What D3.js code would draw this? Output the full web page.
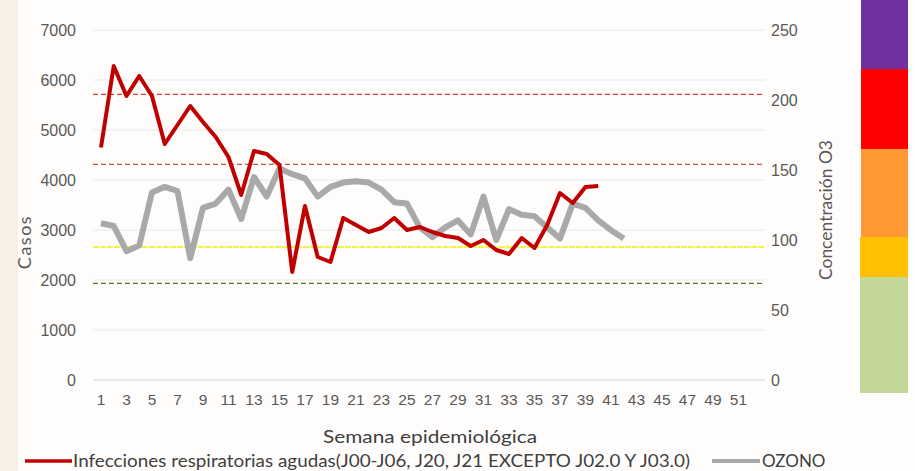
<!DOCTYPE html>
<html>
<head>
<meta charset="utf-8">
<script src="https://cdn.jsdelivr.net/npm/d3@7"></script>
<style>
	body { margin: 0; background: #fffdfb; }
	svg { display: block; font-family: Lato, "Open Sans", sans-serif; }
</style>
</head>
<body>
<svg id="chart" width="915" height="471"></svg>
<script>
// Weekly acute respiratory infections vs. ozone concentration

var weeks = d3.range(1, 53);
var weekLabels = weeks.filter(function(w) { return w % 2 === 1; });

	// Cases of acute respiratory infections, weeks 1..40
var iraCases = [4650, 6280, 5680, 6080, 5680, 4720, 5100, 5480, 5160, 4860,
	4460, 3700, 4580, 4520, 4300, 2160, 3480, 2460, 2360, 3240,
	3100, 2960, 3040, 3240, 3000, 3060, 2960, 2880, 2840, 2680,
	2800, 2600, 2520, 2840, 2640, 3100, 3740, 3540, 3860, 3880];

	// Ozone concentration, weeks 1..42
var ozono = [112, 110, 92, 96, 134, 138, 135, 87, 123, 126,
	136, 115, 145, 131, 151, 147, 144, 131, 138, 141,
	142, 141, 136, 127, 126, 109, 102, 109, 114, 104,
	131, 100, 122, 118, 117, 109, 101, 126, 123, 114,
	107, 101];

var casosTicks = [0, 1000, 2000, 3000, 4000, 5000, 6000, 7000];
var ozonoTicks = [0, 50, 100, 150, 200, 250];

	// Reference levels (ozone units) drawn as dashed lines
var niveles = [204, 154, 95, 69];
var nivelColors = ["#e0403a", "#c8553d", "#f2f000", "#4f7a28"];
var nivelDash = ["5,3", "5,3", "6,1", "5,3"];

	// Colour key at the right edge, top to bottom
var bandColors = ["#7030a0", "#ff0000", "#ff9933", "#ffc000", "#c4d79b"];

var svg = d3.select("#chart");
var W = 915, H = 471;
var plot = { l: 93, r: 765, t: 30, b: 380 };
var txt = "#595959";

var x = d3.scaleBand().domain(weeks).range([94.6, 757.6]);
var yL = d3.scaleLinear().domain([0, 7000]).range([plot.b, plot.t]);
var yR = d3.scaleLinear().domain([0, 250]).range([plot.b, plot.t]);

function cx(w) { return x(w) + x.bandwidth()/2; }

	// Faint slide strip on the left edge
svg.append("rect").attr("x", 0).attr("y", 0).attr("width", 18).attr("height", H)
	.attr("fill", "#f8efe6");

	// Colour key blocks
var bandEdges = [0, 69, 149, 237, 277, 393];
bandColors.forEach(function(c, i) {
	svg.append("rect")
		.attr("x", i >= 3 ? 860 : 861)
		.attr("y", bandEdges[i])
		.attr("width", i >= 3 ? 48 : 47)
		.attr("height", bandEdges[i+1] - bandEdges[i])
		.attr("fill", c);
});

	// Gridlines
svg.append("g").selectAll("line")
	.data(casosTicks)
	.enter().append("line")
	.attr("x1", plot.l).attr("x2", plot.r)
	.attr("y1", function(d) { return yL(d); })
	.attr("y2", function(d) { return yL(d); })
	.attr("stroke", function(d) { return d === 0 ? "#d4d4d4" : "#e8e8e8"; })
	.attr("stroke-width", 1);

	// Level lines
niveles.forEach(function(v, i) {
	svg.append("line")
		.attr("x1", plot.l).attr("x2", plot.r)
		.attr("y1", yR(v)).attr("y2", yR(v))
		.attr("stroke", nivelColors[i])
		.attr("stroke-width", 1.4)
		.attr("stroke-dasharray", nivelDash[i]);
});

	// Axes: left (cases), right (ozone), bottom (weeks)
var axL = svg.append("g").attr("transform", "translate(" + 76 + ",0)")
	.call(d3.axisLeft(yL).tickValues(casosTicks).tickFormat(d3.format("d")).tickSize(0).tickPadding(0));
var axR = svg.append("g").attr("transform", "translate(" + 771 + ",0)")
	.call(d3.axisRight(yR).tickValues(ozonoTicks).tickFormat(d3.format("d")).tickSize(0).tickPadding(0));
var axB = svg.append("g").attr("transform", "translate(0," + 394 + ")")
	.call(d3.axisBottom(x).tickValues(weekLabels).tickSize(0).tickPadding(0));

[axL, axR, axB].forEach(function(a) {
	a.select(".domain").remove();
	a.selectAll("text").attr("fill", txt).style("font-size", "16px");
});
axB.selectAll("text").style("font-size", "15.5px");

	// Series lines
var lineL = d3.line()
	.x(function(d, i) { return cx(i+1); })
	.y(function(d) { return yL(d); });
var lineR = d3.line()
	.x(function(d, i) { return cx(i+1); })
	.y(function(d) { return yR(d); });

svg.append("path").datum(ozono)
	.attr("d", lineR)
	.attr("fill", "none")
	.attr("stroke", "#a9a9a9")
	.attr("stroke-width", 6)
	.attr("stroke-linejoin", "round");

svg.append("path").datum(iraCases)
	.attr("d", lineL)
	.attr("fill", "none")
	.attr("stroke", "#c00000")
	.attr("stroke-width", 4)
	.attr("stroke-linejoin", "round");

	// Axis titles
svg.append("text")
	.attr("transform", "translate(31,242) rotate(-90)")
	.attr("text-anchor", "middle")
	.attr("fill", txt).style("font-size", "18px")
	.style("letter-spacing", "1.5px")
	.text("Casos");

svg.append("text")
	.attr("transform", "translate(832,210) rotate(-90)")
	.attr("text-anchor", "middle")
	.attr("fill", txt).style("font-size", "18px")
	.attr("textLength", 140).attr("lengthAdjust", "spacingAndGlyphs")
	.text("Concentración O3");

svg.append("text")
	.attr("x", 323).attr("y", 443)
	.attr("fill", "#404040").style("font-size", "17px")
	.attr("textLength", 214).attr("lengthAdjust", "spacingAndGlyphs")
	.text("Semana epidemiológica");

	// Legend
var legY = 461;
svg.append("line").attr("x1", 25).attr("x2", 72).attr("y1", legY).attr("y2", legY)
	.attr("stroke", "#c00000").attr("stroke-width", 3.5);
svg.append("text").attr("x", 73).attr("y", legY + 6)
	.attr("fill", "#404040").style("font-size", "17px")
	.attr("textLength", 617).attr("lengthAdjust", "spacingAndGlyphs")
	.text("Infecciones respiratorias agudas(J00-J06, J20, J21 EXCEPTO J02.0 Y J03.0)");
svg.append("line").attr("x1", 712).attr("x2", 760).attr("y1", legY).attr("y2", legY)
	.attr("stroke", "#a9a9a9").attr("stroke-width", 4);
svg.append("text").attr("x", 762).attr("y", legY + 6)
	.attr("fill", "#404040").style("font-size", "17px")
	.text("OZONO");
</script>
</body>
</html>
